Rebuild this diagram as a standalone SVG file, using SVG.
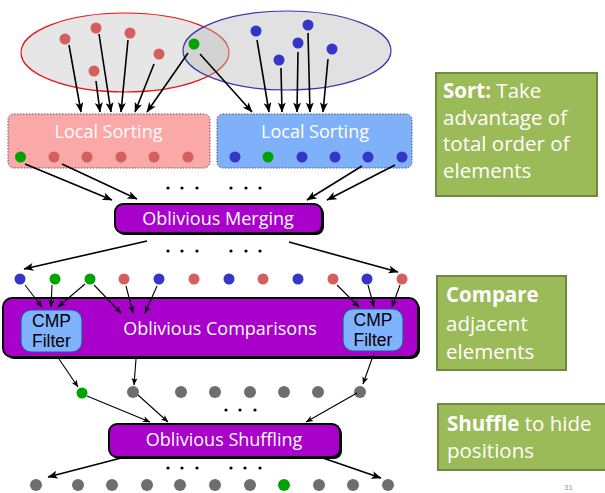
<svg xmlns="http://www.w3.org/2000/svg" width="605" height="493" viewBox="0 0 605 493">
  <style>
    .lbl { font-family: "Open Sans", "Liberation Sans", sans-serif; fill: #fff; text-anchor: middle; }
    .cmp { font-family: "Liberation Sans", Arial, sans-serif; fill: #000; font-size: 17.5px; text-anchor: middle; }
    .note { font-family: "Open Sans", "Liberation Sans", sans-serif; fill: #fff; font-size: 20.5px; }
    .r { fill: #d35f5f; }
    .bl { fill: #3535c8; }
    .g { fill: #00a300; }
    .k { fill: #6e6e6e; }
    .ob { fill: #a900cc; stroke: #000; stroke-width: 2; }
    .shadow { fill: #000; }
    .box-note { fill: #9bbb59; stroke: #71893f; stroke-width: 2; }
    .arr { stroke: #000; stroke-width: 1.6; fill: none; marker-end: url(#ah); }
    .arr-s { stroke: #000; stroke-width: 1.1; fill: none; marker-end: url(#ahs); }
    .dots { fill: #000; }
  </style>
  <defs>
    <marker id="ah" viewBox="0 0 10 8" refX="9.5" refY="4" markerWidth="11" markerHeight="8" markerUnits="userSpaceOnUse" orient="auto">
      <path d="M0,0 L10,4 L0,8 L2.5,4 z" fill="#000"/>
    </marker>
    <marker id="ahs" viewBox="0 0 10 8" refX="9.5" refY="4" markerWidth="8" markerHeight="6" markerUnits="userSpaceOnUse" orient="auto">
      <path d="M0,0 L10,4 L0,8 L2.5,4 z" fill="#000"/>
    </marker>
  </defs>

  <rect width="605" height="493" fill="#fff"/>

  <!-- input sets -->
  <g id="set-red">
    <ellipse cx="125" cy="52.5" rx="104" ry="39.5" fill="#bdbdbd" fill-opacity="0.38" stroke="#e81414" stroke-width="1.2"/>
  </g>
  <g id="set-blue">
    <ellipse cx="287" cy="50.5" rx="104" ry="39.5" fill="#bdbdbd" fill-opacity="0.45" stroke="#3a3aa8" stroke-width="1.2"/>
  </g>
  <g id="set-dots">
    <circle class="r" cx="65" cy="39" r="5.5"/>
    <circle class="r" cx="96" cy="28" r="5.5"/>
    <circle class="r" cx="130" cy="33" r="5.5"/>
    <circle class="r" cx="159" cy="54" r="5.5"/>
    <circle class="r" cx="94" cy="71" r="5.5"/>
    <circle class="g" cx="194" cy="44" r="5.5"/>
    <circle class="bl" cx="256" cy="31" r="5.5"/>
    <circle class="bl" cx="308" cy="25" r="5.5"/>
    <circle class="bl" cx="298" cy="43" r="5.5"/>
    <circle class="bl" cx="279" cy="60" r="5.5"/>
    <circle class="bl" cx="332" cy="49" r="5.5"/>
  </g>

  <!-- local sorting -->
  <g id="sort-red">
    <rect x="8" y="114" width="202" height="54" rx="6" fill="#faa8a8" stroke="#555" stroke-width="1" stroke-dasharray="1.5 1.5"/>
    <text class="lbl" x="108.5" y="138" font-size="18">Local Sorting</text>
    <circle class="g" cx="20.5" cy="157" r="5.5"/>
    <circle class="r" cx="54" cy="157" r="5.5"/>
    <circle class="r" cx="87" cy="157" r="5.5"/>
    <circle class="r" cx="121" cy="157" r="5.5"/>
    <circle class="r" cx="154" cy="157" r="5.5"/>
    <circle class="r" cx="188" cy="157" r="5.5"/>
  </g>
  <g id="sort-blue">
    <rect x="217" y="114" width="195" height="54" rx="6" fill="#7fb1fb" stroke="#555" stroke-width="1" stroke-dasharray="1.5 1.5"/>
    <text class="lbl" x="315" y="138" font-size="18">Local Sorting</text>
    <circle class="bl" cx="235" cy="157" r="5.5"/>
    <circle class="g" cx="268" cy="157" r="5.5"/>
    <circle class="bl" cx="302" cy="157" r="5.5"/>
    <circle class="bl" cx="335" cy="157" r="5.5"/>
    <circle class="bl" cx="368" cy="157" r="5.5"/>
    <circle class="bl" cx="402" cy="157" r="5.5"/>
  </g>

  <!-- oblivious merging -->
  <g id="merge">
    <rect class="shadow" x="117" y="206" width="207" height="29" rx="8"/>
    <rect class="ob" x="115" y="204" width="207" height="29" rx="8"/>
    <text class="lbl" x="218" y="225" font-size="18">Oblivious Merging</text>
  </g>

  <!-- merged sequence -->
  <g id="merged-row">
    <circle class="bl" cx="20" cy="279" r="5.5"/>
    <circle class="g" cx="55" cy="279" r="5.5"/>
    <circle class="g" cx="90" cy="279" r="5.5"/>
    <circle class="r" cx="124" cy="279" r="5.5"/>
    <circle class="bl" cx="159" cy="279" r="5.5"/>
    <circle class="r" cx="194" cy="279" r="5.5"/>
    <circle class="bl" cx="229" cy="279" r="5.5"/>
    <circle class="r" cx="263" cy="279" r="5.5"/>
    <circle class="bl" cx="298" cy="279" r="5.5"/>
    <circle class="r" cx="333" cy="279" r="5.5"/>
    <circle class="bl" cx="367" cy="279" r="5.5"/>
    <circle class="r" cx="402" cy="279" r="5.5"/>
  </g>

  <!-- oblivious comparisons -->
  <g id="compare">
    <rect class="shadow" x="5" y="300" width="415" height="59" rx="9"/>
    <rect class="ob" x="3" y="298" width="415" height="59" rx="9"/>
    <text class="lbl" x="220" y="335" font-size="18">Oblivious Comparisons</text>
  </g>
  <g id="cmp-left">
    <rect x="21" y="310" width="61" height="42" rx="10" fill="#80b3ff" stroke="#2f4f9f" stroke-width="1.2"/>
    <text class="cmp" x="51.5" y="327">CMP</text>
    <text class="cmp" x="51.5" y="347">Filter</text>
  </g>
  <g id="cmp-right">
    <rect x="343" y="309" width="60" height="42" rx="10" fill="#80b3ff" stroke="#2f4f9f" stroke-width="1.2"/>
    <text class="cmp" x="373" y="326">CMP</text>
    <text class="cmp" x="373" y="346">Filter</text>
  </g>

  <!-- filtered sequence -->
  <g id="filtered-row">
    <circle class="g" cx="82" cy="393" r="5.5"/>
    <circle class="k" cx="133" cy="392" r="6"/>
    <circle class="k" cx="181" cy="392" r="6"/>
    <circle class="k" cx="215" cy="392" r="6"/>
    <circle class="k" cx="250" cy="392" r="6"/>
    <circle class="k" cx="284" cy="392" r="6"/>
    <circle class="k" cx="318" cy="392" r="6"/>
    <circle class="k" cx="360" cy="392" r="6"/>
  </g>

  <!-- oblivious shuffling -->
  <g id="shuffle">
    <rect class="shadow" x="111" y="426" width="231" height="33" rx="8"/>
    <rect class="ob" x="109" y="424" width="231" height="33" rx="8"/>
    <text class="lbl" x="224" y="446" font-size="18">Oblivious Shuffling</text>
  </g>

  <!-- output sequence -->
  <g id="output-row">
    <circle class="k" cx="36" cy="485" r="6"/>
    <circle class="k" cx="78" cy="485" r="6"/>
    <circle class="k" cx="112" cy="485" r="6"/>
    <circle class="k" cx="147" cy="485" r="6"/>
    <circle class="k" cx="180" cy="485" r="6"/>
    <circle class="k" cx="215" cy="485" r="6"/>
    <circle class="k" cx="250" cy="485" r="6"/>
    <circle class="g" cx="284" cy="485" r="6"/>
    <circle class="k" cx="319" cy="485" r="6"/>
    <circle class="k" cx="353" cy="485" r="6"/>
    <circle class="k" cx="388" cy="485" r="6"/>
  </g>

  <!-- ellipsis marks -->
  <g id="ellipses" class="dots">
    <circle cx="168" cy="188" r="1.6"/><circle cx="182" cy="188" r="1.6"/><circle cx="197" cy="188" r="1.6"/>
    <circle cx="231" cy="188" r="1.6"/><circle cx="246" cy="188" r="1.6"/><circle cx="260" cy="188" r="1.6"/>
    <circle cx="168" cy="251" r="1.6"/><circle cx="182" cy="251" r="1.6"/><circle cx="197" cy="251" r="1.6"/>
    <circle cx="231" cy="251" r="1.6"/><circle cx="246" cy="251" r="1.6"/><circle cx="260" cy="251" r="1.6"/>
    <circle cx="226" cy="410" r="1.6"/><circle cx="240" cy="410" r="1.6"/><circle cx="255" cy="410" r="1.6"/>
    <circle cx="168" cy="468" r="1.6"/><circle cx="182" cy="468" r="1.6"/><circle cx="197" cy="468" r="1.6"/>
    <circle cx="231" cy="468" r="1.6"/><circle cx="245" cy="468" r="1.6"/><circle cx="260" cy="468" r="1.6"/>
  </g>

  <!-- connectors -->
  <g id="connectors">
    <!-- into local sorting -->
    <line class="arr" x1="69" y1="45" x2="81" y2="112"/>
    <line class="arr" x1="96" y1="81" x2="100" y2="112"/>
    <line class="arr" x1="99" y1="34" x2="111" y2="112"/>
    <line class="arr" x1="128" y1="40" x2="121" y2="112"/>
    <line class="arr" x1="154" y1="64" x2="135" y2="112"/>
    <line class="arr" x1="188" y1="53" x2="147" y2="112"/>
    <line class="arr" x1="200" y1="54" x2="252" y2="112"/>
    <line class="arr" x1="257" y1="40" x2="269" y2="112"/>
    <line class="arr" x1="281" y1="68" x2="282" y2="112"/>
    <line class="arr" x1="298" y1="52" x2="297" y2="112"/>
    <line class="arr" x1="308" y1="33" x2="310" y2="112"/>
    <line class="arr" x1="328" y1="59" x2="323" y2="112"/>
    <!-- into merging -->
    <line class="arr" x1="25" y1="164" x2="112" y2="200"/>
    <line class="arr" x1="62" y1="164" x2="137" y2="199"/>
    <line class="arr" x1="362" y1="166" x2="307" y2="200"/>
    <line class="arr" x1="395" y1="165" x2="327" y2="200"/>
    <!-- out of merging -->
    <line class="arr" x1="147" y1="241" x2="24" y2="269"/>
    <line class="arr" x1="289" y1="242" x2="398" y2="272"/>
    <!-- into comparisons -->
    <line class="arr-s" x1="25" y1="285" x2="42" y2="307"/>
    <line class="arr-s" x1="52" y1="285" x2="51" y2="307"/>
    <line class="arr-s" x1="85" y1="284" x2="58" y2="307"/>
    <line class="arr-s" x1="94" y1="285" x2="121" y2="313"/>
    <line class="arr-s" x1="126" y1="286" x2="133" y2="313"/>
    <line class="arr-s" x1="157" y1="286" x2="145" y2="313"/>
    <line class="arr-s" x1="337" y1="285" x2="359" y2="307"/>
    <line class="arr-s" x1="368" y1="285" x2="374" y2="307"/>
    <line class="arr-s" x1="400" y1="285" x2="392" y2="307"/>
    <!-- out of comparisons -->
    <line class="arr-s" x1="59" y1="359" x2="78" y2="387"/>
    <line class="arr-s" x1="136" y1="359" x2="134" y2="385"/>
    <line class="arr-s" x1="374" y1="353" x2="363" y2="384"/>
    <!-- into shuffling -->
    <line class="arr-s" x1="87" y1="396" x2="150" y2="422"/>
    <line class="arr-s" x1="138" y1="395" x2="168" y2="422"/>
    <line class="arr-s" x1="357" y1="393" x2="306" y2="422"/>
    <!-- out of shuffling -->
    <line class="arr" x1="125" y1="457" x2="48" y2="477"/>
    <line class="arr" x1="320" y1="457" x2="381" y2="478"/>
  </g>

  <!-- side notes -->
  <g id="note-sort">
    <rect class="box-note" x="436" y="73" width="161" height="123"/>
    <text class="note" x="443" y="98"><tspan font-weight="bold">Sort:</tspan> Take</text>
    <text class="note" x="443" y="124.5">advantage of</text>
    <text class="note" x="443" y="151">total order of</text>
    <text class="note" x="443" y="177.5">elements</text>
  </g>
  <g id="note-compare">
    <rect class="box-note" x="437" y="276" width="129" height="94"/>
    <text class="note" x="446" y="302" font-weight="bold">Compare</text>
    <text class="note" x="446" y="331">adjacent</text>
    <text class="note" x="446" y="359">elements</text>
  </g>
  <g id="note-shuffle">
    <rect class="box-note" x="438" y="404" width="170" height="66"/>
    <text class="note" x="447" y="431"><tspan font-weight="bold">Shuffle</tspan> to hide</text>
    <text class="note" x="447" y="458">positions</text>
  </g>

  <!-- slide number -->
  <text x="564" y="490" font-family="'Liberation Sans', sans-serif" font-size="8" fill="#999">31</text>
</svg>
